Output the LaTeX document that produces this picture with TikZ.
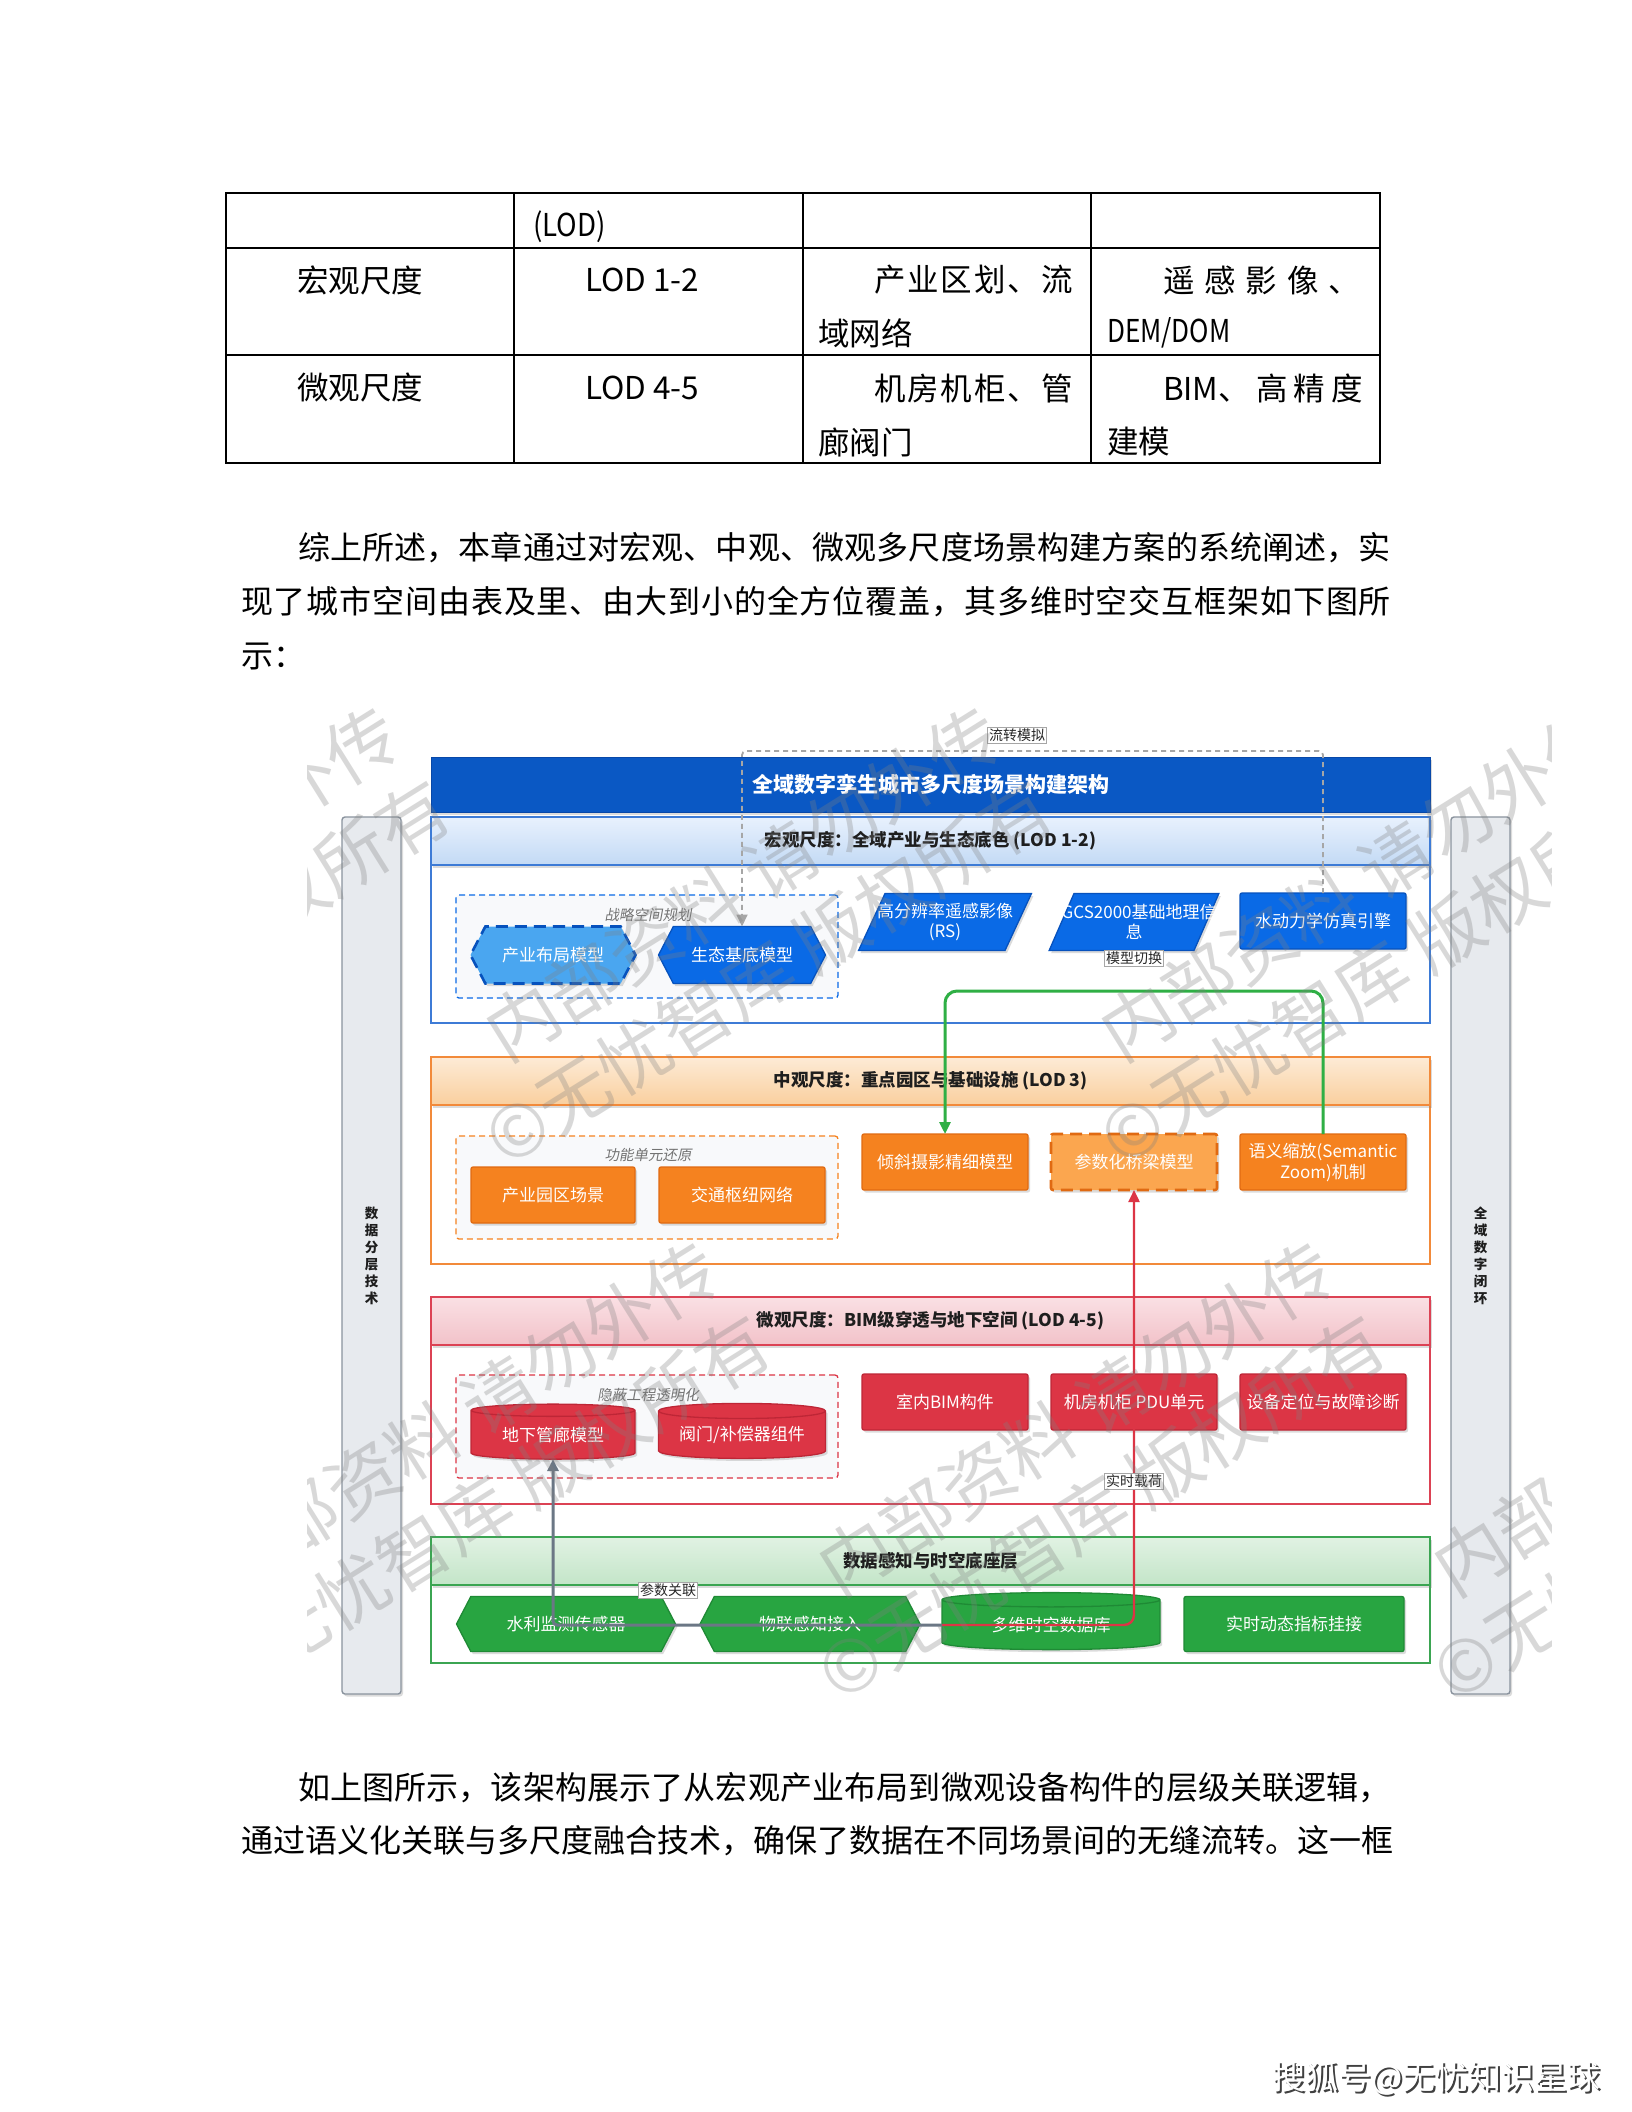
\documentclass[tikz,border=0pt]{standalone}
\usepackage{fontspec}
\setmainfont{Noto Sans CJK SC}
\newfontfamily\cjkslant[FakeSlant=0.18]{Noto Sans CJK SC}
\usetikzlibrary{shapes.geometric,shapes.symbols,arrows.meta,shadows}
\newcommand{\myfs}[1]{\fontsize{#1pt}{#1pt}\selectfont}
\newcommand{\spreadtext}[1]{\spreadA#1\relax}
\def\spreadA#1{#1\spreadB}
\def\spreadB#1{\ifx#1\relax\else\hfil#1\expandafter\spreadB\fi}
\newcommand{\spreadto}[2]{\makebox[#1][s]{\spreadtext{#2}}}
\definecolor{tblue}{HTML}{0A58C4}
\definecolor{tblueb}{HTML}{0848A8}
\definecolor{mblue}{HTML}{3D7BD6}
\definecolor{nblue}{HTML}{0A6AE6}
\definecolor{nblueb}{HTML}{0752BD}
\definecolor{lblue}{HTML}{4AA6F0}
\definecolor{morange}{HTML}{F28A3A}
\definecolor{norange}{HTML}{F5821F}
\definecolor{norangeb}{HTML}{E06A12}
\definecolor{lorange}{HTML}{FBA64F}
\definecolor{mred}{HTML}{DC4254}
\definecolor{nred}{HTML}{DC3545}
\definecolor{nredb}{HTML}{BE2636}
\definecolor{mgreen}{HTML}{3BA552}
\definecolor{ngreen}{HTML}{28A541}
\definecolor{ngreenb}{HTML}{1F8A35}
\definecolor{egreen}{HTML}{2FAF45}
\definecolor{ered}{HTML}{DC3545}
\definecolor{egray}{HTML}{6B7785}
\definecolor{sbfill}{HTML}{E7EAEE}
\definecolor{sbdraw}{HTML}{8A939E}
\definecolor{grpfill}{HTML}{F8F9FB}
\definecolor{hdrtext}{HTML}{1E1E1E}
\definecolor{hbt}{HTML}{E8F1FD}
\definecolor{hbb}{HTML}{C3DAF5}
\definecolor{hot}{HTML}{FDEBD6}
\definecolor{hob}{HTML}{F9CF9E}
\definecolor{hrt}{HTML}{FAE0E4}
\definecolor{hrb}{HTML}{F2C2C9}
\definecolor{hgt}{HTML}{E1F2E3}
\definecolor{hgb}{HTML}{C3E5C8}
\tikzset{
  tline/.style={line width=1.3pt, black},
  ttext/.style={anchor=west, font=\myfs{31.5}, text=black},
  ptext/.style={anchor=west, font=\myfs{32}, text=black},
  shd/.style={drop shadow={opacity=0.28, shadow xshift=2pt, shadow yshift=-2.5pt}},
  sidebar/.style={rectangle, rounded corners=3pt, draw=sbdraw, line width=1.4pt, fill=sbfill, anchor=north west, minimum width=59, minimum height=877, align=center, font=\bfseries\fontsize{13.5pt}{17pt}\selectfont, text=hdrtext, shd},
  titlebar/.style={rectangle, anchor=north west, minimum width=999, minimum height=55, fill=tblue, draw=tblueb, line width=1pt, text=white, font=\bfseries\myfs{21}, shd},
  layerbox/.style={rectangle, draw=#1, line width=1.6pt, fill=white, anchor=north west, minimum width=999},
  hdr/.style={rectangle, draw=#1, line width=1.6pt, anchor=north west, minimum width=999, minimum height=48, font=\bfseries\myfs{17.5}, text=hdrtext, shd},
  grp/.style={rectangle, draw=#1, dash pattern=on 6pt off 4pt, line width=1.3pt, fill=grpfill, rounded corners=3pt, anchor=north west, minimum width=382, minimum height=103},
  grplabel/.style={font=\cjkslant\myfs{14.5}, text=black!55},
  base/.style={text=white, font=\myfs{17}, align=center, line width=1.3pt, shd},
  rbox/.style={base, rectangle, rounded corners=2pt, minimum width=166, minimum height=56},
  hexn/.style={base, signal, signal to=east and west, signal pointer angle=125, minimum width=#1, minimum height=57},
  para/.style={base, trapezium, trapezium left angle=56, trapezium right angle=124, trapezium stretches=true, minimum width=168, minimum height=57, inner sep=1pt, fill=nblue, draw=nblueb, font=\fontsize{17pt}{19.5pt}\selectfont},
  cyl/.style={base, cylinder, shape border rotate=90, aspect=0.12, minimum width=#1, minimum height=55},
  bigdash/.style={dash pattern=on 12pt off 7pt, line width=2.6pt},
  arr/.style={-{Triangle[length=12pt,width=11pt]}},
  dedge/.style={arr, draw=gray!70, dash pattern=on 5pt off 4pt, line width=1.8pt, rounded corners=4pt},
  gedge/.style={arr, draw=egreen, line width=3pt, rounded corners=12pt},
  redge/.style={arr, draw=ered, line width=2.4pt, rounded corners=10pt},
  gyedge/.style={arr, draw=egray, line width=3pt, rounded corners=4pt},
  elabel/.style={draw=gray!70, fill=white, line width=0.7pt, font=\myfs{14}, inner sep=1.5pt, text=black!85},
  wm/.style={anchor=west, rotate=32, font=\myfs{72}, text=gray, text opacity=0.3}
}
\begin{document}
\begin{tikzpicture}[x=1pt,y=-1pt, every node/.style={inner sep=0pt, outer sep=0pt}]
\useasboundingbox (0,0) rectangle (1632,2112);
\fill[white] (0,0) rectangle (1632,2112);

% ---------- table ----------
\draw[tline] (226,193) rectangle (1380,463);
\draw[tline] (226,248) -- (1380,248) (226,355) -- (1380,355)
  (514,193) -- (514,463) (803,193) -- (803,463) (1091,193) -- (1091,463);
\node[ttext] (t01) at (533,227) {\scalebox{0.88}[1]{(LOD)}};
\node[ttext] (t10) at (297,280) {宏观尺度};
\node[ttext] (t11) at (585,280) {LOD 1-2};
\node[ttext] (t12) at (874,280) {\spreadto{199pt}{产业区划、流}};
\node[ttext] (t12b) at (818,333) {域网络};
\node[ttext] (t13) at (1163,280) {\spreadto{197pt}{遥感影像、}};
\node[ttext] (t13b) at (1107,333) {\scalebox{0.83}[1]{DEM/DOM}};
\node[ttext] (t20) at (297,388) {微观尺度};
\node[ttext] (t21) at (585,388) {LOD 4-5};
\node[ttext] (t22) at (874,388) {\spreadto{199pt}{机房机柜、管}};
\node[ttext] (t22b) at (818,442) {廊阀门};
\node[ttext] (t23) at (1163,388) {\makebox[200pt][s]{BIM、\hfil 高\hfil 精\hfil 度}};
\node[ttext] (t23b) at (1107,442) {建模};

% ---------- paragraph 1 ----------
\node[ptext] (p1a) at (298,548) {\spreadto{1093pt}{综上所述，本章通过对宏观、中观、微观多尺度场景构建方案的系统阐述，实}};
\node[ptext] (p1b) at (241,602) {\spreadto{1150pt}{现了城市空间由表及里、由大到小的全方位覆盖，其多维时空交互框架如下图所}};
\node[ptext] (p1c) at (241,656) {示：};

% ---------- diagram ----------
\node[sidebar] (sbL) at (342,817) {数\\据\\分\\层\\技\\术};
\node[sidebar] (sbR) at (1451,817) {全\\域\\数\\字\\闭\\环};

\node[titlebar] (title) at (431,757) {全域数字孪生城市多尺度场景构建架构};

% macro layer
\node[layerbox=mblue, minimum height=206] (L1) at (431,817) {};
\node[hdr=mblue, top color=hbt, bottom color=hbb] (H1) at (431,817) {宏观尺度：全域产业与生态底色 (LOD 1-2)};
\node[grp=nblue] (G1) at (456,895) {};
\node[grplabel] (G1l) at (648,915) {战略空间规划};
\node[hexn=165, fill=lblue, draw=nblueb, bigdash] (n11) at (553,955) {产业布局模型};
\node[hexn=167, fill=nblue, draw=nblueb] (n12) at (742,955) {生态基底模型};
\node[para] (n13) at (945,922) {\makebox[118pt]{高分辨率遥感影像}\\(RS)};
\node[para] (n14) at (1134,922) {\makebox[118pt]{CGCS2000基础地理信}\\息};
\node[rbox, fill=nblue, draw=nblueb] (n15) at (1323,921) {水动力学仿真引擎};

% meso layer
\node[layerbox=morange, minimum height=207] (L2) at (431,1057) {};
\node[hdr=morange, top color=hot, bottom color=hob] (H2) at (431,1057) {中观尺度：重点园区与基础设施 (LOD 3)};
\node[grp=norange] (G2) at (456,1136) {};
\node[grplabel] (G2l) at (648,1155) {功能单元还原};
\node[rbox, fill=norange, draw=norangeb, minimum width=164] (n21) at (553,1195) {产业园区场景};
\node[rbox, fill=norange, draw=norangeb] (n22) at (742,1195) {交通枢纽网络};
\node[rbox, fill=norange, draw=norangeb] (n23) at (945,1162) {倾斜摄影精细模型};
\node[rbox, fill=lorange, draw=norangeb, bigdash] (n24) at (1134,1162) {参数化桥梁模型};
\node[rbox, fill=norange, draw=norangeb, font=\fontsize{17pt}{21pt}\selectfont] (n25) at (1323,1162) {语义缩放(Semantic\\Zoom)机制};

% micro layer
\node[layerbox=mred, minimum height=207] (L3) at (431,1297) {};
\node[hdr=mred, top color=hrt, bottom color=hrb] (H3) at (431,1297) {微观尺度：BIM级穿透与地下空间 (LOD 4-5)};
\node[grp=nred] (G3) at (456,1375) {};
\node[grplabel] (G3l) at (648,1395) {隐蔽工程透明化};
\node[cyl=164, fill=nred, draw=nredb] (n31) at (553,1435) {地下管廊模型};
\node[cyl=167, fill=nred, draw=nredb] (n32) at (742,1435) {阀门/补偿器组件};
\node[rbox, fill=nred, draw=nredb] (n33) at (945,1402) {室内BIM构件};
\node[rbox, fill=nred, draw=nredb] (n34) at (1134,1402) {机房机柜 PDU单元};
\node[rbox, fill=nred, draw=nredb] (n35) at (1323,1402) {设备定位与故障诊断};

% data layer
\node[layerbox=mgreen, minimum height=126] (L4) at (431,1537) {};
\node[hdr=mgreen, top color=hgt, bottom color=hgb] (H4) at (431,1537) {数据感知与时空底座层};
\node[hexn=219, fill=ngreen, draw=ngreenb, minimum height=55] (n41) at (566,1624) {水利监测传感器};
\node[hexn=220, fill=ngreen, draw=ngreenb, minimum height=55] (n42) at (810,1624) {物联感知接入};
\node[cyl=218, fill=ngreen, draw=ngreenb, minimum height=57] (n43) at (1051,1625) {多维时空数据库};
\node[rbox, fill=ngreen, draw=ngreenb, minimum width=220, minimum height=55] (n44) at (1294,1624) {实时动态指标挂接};

% edges
\coordinate (fl) at (1000,751);
\draw[dedge] (n15.north) |- (fl) -| (n12.north);
\coordinate (gr) at (1100,991);
\draw[gedge] (n25.north) |- (gr) -| (n23.north);
\draw[redge] (n43.west) -| (n24.south);
\draw[gyedge] (n43.west) -| (n31.south);

\node[elabel] (lb1) at (1017,735) {流转模拟};
\node[elabel] (lb2) at (1134,958) {模型切换};
\node[elabel] (lb3) at (1134,1481) {实时载荷};
\node[elabel] (lb4) at (668,1590) {参数关联};

% watermarks
\begin{scope}
\clip (307,690) rectangle (1551,1725);
\foreach \ax/\ay [count=\i] in {170/610,785/610,1400/610,-110/1145,492/1145,1107/1145,-400/1680,210/1680,825/1680,1440/1680}{
  \node[wm] (wa\i) at (\ax,\ay) {©无忧智库 版权所有};
  \node[wm] (wb\i) at (\ax,\ay-105) {内部资料 请勿外传};
}
\end{scope}

% ---------- paragraph 2 ----------
\node[ptext] (p2a) at (298,1788) {\spreadto{1093pt}{如上图所示，该架构展示了从宏观产业布局到微观设备构件的层级关联逻辑，}};
\node[ptext] (p2b) at (241,1841) {\spreadto{1150pt}{通过语义化关联与多尺度融合技术，确保了数据在不同场景间的无缝流转。这一框}};

% footer
\node[anchor=west, font=\myfs{33}, text=black!75] (fts) at (1274,2080) {搜狐号@无忧知识星球};
\node[anchor=west, font=\myfs{33}, text=white] (ft) at (1272,2078) {搜狐号@无忧知识星球};
\end{tikzpicture}
\end{document}
